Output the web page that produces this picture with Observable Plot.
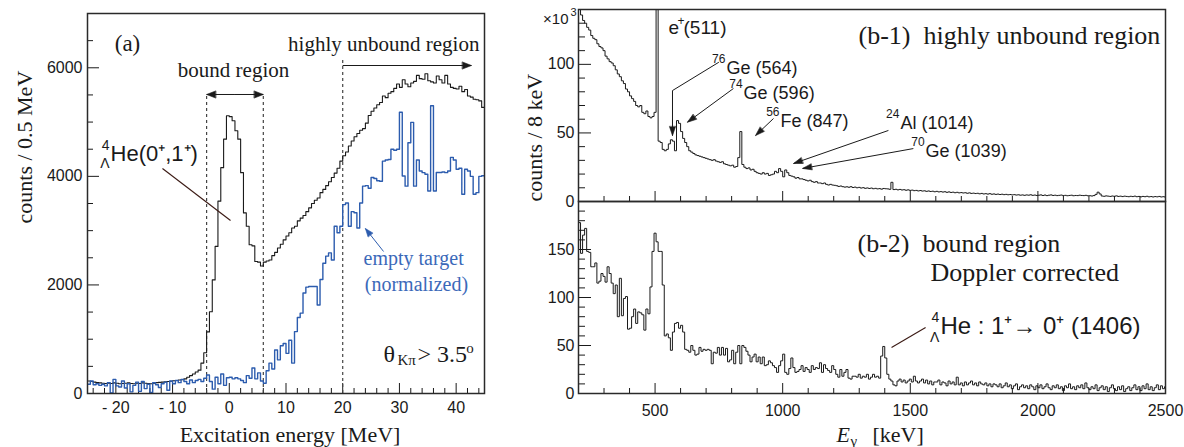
<!DOCTYPE html>
<html><head><meta charset="utf-8">
<script src="https://cdn.jsdelivr.net/npm/d3@7"></script>
<script src="https://cdn.jsdelivr.net/npm/@observablehq/plot@0.6"></script>
<style>
body{margin:0;background:#fff;}
#chart{position:relative;width:1184px;height:447px;overflow:hidden;background:#fff;}
</style></head><body><div id="chart"></div>
<script>
// ---------- DATA ----------
// Panel (a): excitation energy histograms, 0.5 MeV bins starting at -25 MeV
const aBinStart = -25, aBinWidth = 0.5;
const aSignal = [
 230,220,210,200,195,190,185,190,185,195,190,180,185,190,195,185,180,190,185,195,
 190,185,180,190,200,205,210,215,220,225,235,240,250,255,270,300,330,360,395,430,
 560,750,1135,1506,2093,2710,3543,4160,4685,5117,5100,5025,4840,4685,4068,3327,3080,2741,2720,2432,
 2420,2350,2420,2440,2460,2540,2600,2680,2750,2830,2900,2960,3050,3080,3180,3230,3280,3350,3420,3500,
 3560,3600,3700,3760,3830,3900,3980,4060,4150,4280,4380,4450,4560,4650,4730,4790,4850,4880,4980,5120,
 5200,5260,5320,5360,5480,5450,5530,5560,5620,5700,5640,5780,5700,5650,5720,5750,5860,5800,5790,5890,
 5760,5740,5720,5850,5780,5720,5860,5700,5640,5620,5610,5660,5560,5600,5480,5460,5420,5410,5390,5270
];
const aEmpty = [
 170,230,160,180,150,170,140,200,10,260,140,120,230,100,180,30,150,210,40,220,
 90,170,20,200,160,110,180,210,60,230,180,240,200,260,220,180,250,200,240,260,
 220,280,340,220,80,300,180,360,150,290,300,270,290,270,240,200,330,280,470,270,
 380,230,190,420,560,450,800,620,880,920,740,980,560,1140,1400,1480,1850,1960,1970,1970,
 1970,1630,2100,2400,2530,2590,2460,3080,2960,3080,3480,3510,3080,3350,3330,3050,3510,3820,3830,3780,
 3980,3960,3920,3910,4280,4300,4310,4500,4480,4500,5180,4006,3820,4620,4995,3820,4300,4100,4068,4040,
 3730,5300,3730,4070,4070,4080,4068,4100,4350,4300,4130,4150,3670,4130,4100,4000,3670,3700,4000,4010
];
// Panel (b): gamma-ray spectra, 8 keV bins starting at 200 keV
const bBinStart = 200, bBinWidth = 8;
const b1Counts = [ // highly unbound region, x10^3 counts
 141,136,132,130,127,125,121,119,118,115,113,112,110,106,104,102,101,99,96,93,91,88,86,82,80,
 77,75,73,70,69,70,65,64,66,62,61,62,65,300,44,43,38,37,38,42,45,44,37,59,57,
 51,46,43,40,37,36,35,34,33.5,33,32.5,32,31.5,31,30.5,30,30.5,29.5,29,28.5,29,27.5,27,26.5,26,
 26.5,25,25.5,32,51,27,25,24,24.5,23,23.5,22,21,20.5,20,21,20,20.5,19,19.5,20,22,21,24,22,
 18,23,21,19,18.5,18,17,17.5,16.5,16.5,16,15.5,15,15.5,14.5,14,14.5,13.5,13.5,13,13.5,12.5,12,12.5,12,
 11.8,11.5,11,11.3,10.8,10.5,10.7,10.4,10.8,10.2,10.5,10,10.3,9.8,10.1,9.6,9.9,9.5,9.8,9.3,9.6,9.2,9.4,9,9.5,
 9.3,9.2,8.9,14,8.7,8.9,8.5,8.8,8.4,8.6,8.2,8.5,8.1,8.3,7.9,8.1,7.7,8,7.6,7.8,7.4,7.7,7.3,7.5,7.1,
 7.4,7,7.2,6.9,7.1,6.7,7,6.6,6.8,6.4,6.7,6.3,6.5,6.2,6.4,6,6.3,5.9,6.1,5.8,6,5.6,5.9,5.5,5.7,
 5.4,5.7,5.3,5.5,5.2,5.4,5.1,5.3,5,5.2,4.9,5.1,4.8,5,4.7,4.9,4.6,4.8,4.5,4.8,4.6,4.9,4.5,4.7,4.4,
 4.6,4.8,4.4,4.7,4.3,4.6,4.8,4.4,4.6,4.3,4.5,4.7,4.3,4.5,4.2,4.4,4.6,4.2,4.4,4.3,4.6,4.4,4.3,4.5,4.2,
 4.2,4,4.3,5.2,6.8,5.5,4,3.8,4.1,3.9,3.7,4,3.8,4.1,3.7,3.9,3.6,3.9,3.7,3.5,3.8,3.6,3.9,3.5,3.7,
 3.4,3.7,3.5,3.8,3.4,3.6,3.3,3.6,3.4,3.7,3.3,3.5,3.2
];
const b2Counts = [ // bound region, Doppler corrected
 178,146,165,172,148,147,132,132,136,115,117,125,122,116,132,125,115,104,113,80,120,81,99,101,67,
 68,80,88,73,85,84,82,66,88,83,111,148,167,158,148,148,113,60,62,58,45,64,73,74,68,
 71,64,46,45,43,50,45,40,41,48,44,46,45,46,45,31,43,42,48,40,48,40,47,33,35,
 45,31,43,50,31,50,48,44,40,33,38,41,33,38,31,38,29,30,34,32,29,27,22,29,34,
 41,22,20,26,37,27,22,23,25,29,23,27,25,22,29,25,27,26,32,22,30,26,24,22,29,
 25,20,17,25,18,22,25,16,15,18,18,17,20,16,18,17,20,15,17,20,17,18,16,39,49,
 37,20,15,13,9,8,13,15,12,14,11,13,15,12,18,13,11,13,15,11,14,10,13,9,12,
 12,14,9,12,11,8,13,10,12,9,17,9,11,8,12,9,11,13,9,11,8,12,10,9,11,
 8,10,7,10,9,7,10,6,8,11,7,9,5,8,10,4,7,9,6,8,5,9,7,4,8,
 6,9,5,7,10,6,4,8,6,9,5,7,3,8,6,10,5,7,4,8,6,9,5,11,6,
 4,7,5,9,3,6,8,4,7,2,6,9,5,3,7,4,8,2,5,7,3,6,9,4,7,
 3,8,5,10,4,7,3,6,9,4,8,5,7
];
// tick labels
const aXTicks = [-20, -10, 0, 10, 20, 30, 40];
const aYTicks = [0, 2000, 4000, 6000];
const bXTicks = [500, 1000, 1500, 2000, 2500];
const b1YTicks = [0, 50, 100];
const b2YTicks = [0, 50, 100, 150];

// ---------- LAYOUT / STYLE ----------
const sans = "'Liberation Sans', Arial, Helvetica, sans-serif";
const serif = "'Liberation Serif', 'Times New Roman', Times, serif";
const ink = "#1a1a1a", frameCol = "#2a2a2a", blue = "#2c5cae", blueText = "#3b69b9", brown = "#3b1a14";
const W = 1184, H = 447;
const A  = {l: 87,  r: 484,  t: 13,  b: 393};
const B1 = {l: 578, r: 1165, t: 9,   b: 201};
const B2 = {l: 578, r: 1165, t: 201, b: 393};
const aXd = [-25, 45], aYd = [0, 7000], bXd = [200, 2500], b1Yd = [0, 140], b2Yd = [0, 200];

function mapper(box, xd, yd) {
  return {x: v => box.l + (v - xd[0]) / (xd[1] - xd[0]) * (box.r - box.l),
          y: v => box.b - (v - yd[0]) / (yd[1] - yd[0]) * (box.b - box.t)};
}
const mA = mapper(A, aXd, aYd), mB1 = mapper(B1, bXd, b1Yd), mB2 = mapper(B2, bXd, b2Yd);

function steps(values, start, width) {
  const pts = values.map((v, i) => ({x: start + i * width, y: v}));
  pts.push({x: start + values.length * width, y: values[values.length - 1]});
  return pts;
}
function base(box, xd, yd, marks) {
  return Plot.plot({
    width: W, height: H,
    marginLeft: box.l, marginRight: W - box.r, marginTop: box.t, marginBottom: H - box.b,
    x: {domain: xd, axis: null}, y: {domain: yd, axis: null},
    style: {position: "absolute", left: "0px", top: "0px", overflow: "visible", background: "transparent", fontFamily: sans, color: ink},
    marks
  });
}
const ticksX = (vals, len, box) => Plot.tickX(vals, {x: d => d, insetTop: (box.b - box.t) - len, stroke: ink, strokeWidth: 1});
const ticksY = (vals, len, box) => Plot.tickY(vals, {y: d => d, insetRight: (box.r - box.l) - len, stroke: ink, strokeWidth: 1});
const txt = (x, y, t, o = {}) => Plot.text([{x, y, t}], {x: "x", y: "y", text: "t", lineAnchor: "bottom", textAnchor: "start", fill: ink, ...o});
const headShape = {draw(ctx, l, r) { ctx.moveTo(-r, 0); ctx.lineTo(0, -l); ctx.lineTo(r, 0); ctx.closePath(); }};
function arrow(m, from, to, o = {}) {
  const col = o.color || ink, len = o.len || 9, r = o.r || 3.2;
  const ang = Math.atan2(m.x(to[0]) - m.x(from[0]), -(m.y(to[1]) - m.y(from[1]))) * 180 / Math.PI;
  return [
    Plot.link([{x1: from[0], y1: from[1], x2: to[0], y2: to[1]}], {x1: "x1", y1: "y1", x2: "x2", y2: "y2", stroke: col, strokeWidth: o.sw || 1}),
    Plot.vector([{x: to[0], y: to[1], a: ang}], {x: "x", y: "y", rotate: "a", length: len, r, anchor: "end", shape: headShape, fill: col, stroke: col, strokeWidth: 0.6})
  ];
}
const fmtA = d => d < 0 ? "- " + (-d) : String(d);

// ---------- PANEL (a) ----------
const plotA = base(A, aXd, aYd, [
  ticksX(d3.range(-24, 45, 2).filter(d => d % 10 !== 0), 5, A),
  ticksX(aXTicks, 10, A),
  ticksY(d3.range(500, 7000, 500).filter(d => d % 2000 !== 0), 6, A),
  ticksY(aYTicks, 12, A),
  Plot.axisX(aXTicks, {tickSize: 0, tickPadding: 8, tickFormat: fmtA, fontSize: 16, fontFamily: sans, fill: ink, label: null}),
  Plot.axisY(aYTicks, {tickSize: 0, tickPadding: 5, tickFormat: d => String(d), fontSize: 16, fontFamily: sans, fill: ink, label: null}),
  // dashed region borders
  Plot.ruleX([{x: -4, y2: 5508}, {x: 6, y2: 5508}, {x: 20, y2: 6170}], {x: "x", y1: 0, y2: "y2", stroke: "#444", strokeWidth: 1.2, strokeDasharray: "3,3"}),
  Plot.line(steps(aSignal, aBinStart, aBinWidth), {x: "x", y: "y", curve: "step-after", stroke: ink, strokeWidth: 1.1, clip: true}),
  Plot.line(steps(aEmpty, aBinStart, aBinWidth), {x: "x", y: "y", curve: "step-after", stroke: blue, strokeWidth: 1.4, clip: true}),
  Plot.frame({stroke: frameCol, strokeWidth: 1.5}),
  // annotations
  txt(-17.95, 6318, "(a)", {textAnchor: "middle", fontFamily: serif, fontSize: 23}),
  txt(0.75, 5830, "bound region", {textAnchor: "middle", fontFamily: serif, fontSize: 21}),
  ...arrow(mA, [1, 5508], [-4, 5508], {len: 9, r: 3.5}),
  ...arrow(mA, [1, 5508], [6, 5508], {len: 9, r: 3.5}),
  txt(44.1, 6318, "highly unbound region", {textAnchor: "end", fontFamily: serif, fontSize: 21}),
  ...arrow(mA, [20, 6042], [42.7, 6042], {len: 9, r: 3.5}),
  txt(-20.94, 4292, "He(0\u207A,1\u207A)", {fontSize: 22}),
  txt(-20.94, 4292, "4", {textAnchor: "end", dx: -1, dy: -11, fontSize: 14}),
  txt(-20.94, 4292, "\u039B", {textAnchor: "end", dx: -1, dy: 7, fontSize: 14}),
  Plot.link([{x1: -11.78, y1: 4145, x2: 0.216, y2: 3187}], {x1: "x1", y1: "y1", x2: "x2", y2: "y2", stroke: brown, strokeWidth: 1.1}),
  txt(32.5, 2358, "empty target", {textAnchor: "middle", fontFamily: serif, fontSize: 20, fill: blueText}),
  txt(33.0, 1897, "(normalized)", {textAnchor: "middle", fontFamily: serif, fontSize: 20, fill: blueText}),
  ...arrow(mA, [27.2, 2616], [24.0, 3039], {color: blue, len: 8, r: 3}),
  txt(27.2, 589, "\u03B8", {fontFamily: serif, fontSize: 24}),
  txt(29.66, 589, "K\u03C0", {fontFamily: serif, fontSize: 15, dy: 3}),
  txt(33.19, 589, "> 3.5", {fontFamily: serif, fontSize: 24}),
  txt(41.8, 755, "o", {fontFamily: serif, fontSize: 15}),
  Plot.text(["Excitation energy [MeV]"], {frameAnchor: "bottom", text: d => d, dx: 4, dy: 48, lineAnchor: "bottom", fontFamily: serif, fontSize: 22, fill: ink}),
  Plot.text(["counts / 0.5 MeV"], {frameAnchor: "left", text: d => d, dx: -63, dy: 20, rotate: -90, lineAnchor: "middle", fontFamily: serif, fontSize: 22, fill: ink})
]);

// ---------- PANEL (b-1) ----------
const bXMinor = d3.range(300, 2500, 100).filter(d => d % 500 !== 0);
const plotB1 = base(B1, bXd, b1Yd, [
  ticksX(bXMinor, 5, B1),
  ticksX(bXTicks, 10, B1),
  ticksY(d3.range(10, 140, 10).filter(d => d % 50 !== 0), 7, B1),
  ticksY(b1YTicks, 13, B1),
  Plot.axisY(b1YTicks, {tickSize: 0, tickPadding: 4, tickFormat: d => String(d), fontSize: 16, fontFamily: sans, fill: ink, label: null}),
  Plot.line(steps(b1Counts, bBinStart, bBinWidth), {x: "x", y: "y", curve: "step-after", stroke: ink, strokeWidth: 1, clip: true}),
  Plot.frame({stroke: frameCol, strokeWidth: 1.5}),
  Plot.text(["\u00D710"], {frameAnchor: "top-left", text: d => d, textAnchor: "end", lineAnchor: "bottom", dx: -10, dy: 14, fontSize: 15, fill: ink}),
  Plot.text(["3"], {frameAnchor: "top-left", text: d => d, textAnchor: "end", lineAnchor: "bottom", dx: -2, dy: 6, fontSize: 11, fill: ink}),
  txt(2479.9, 115, "(b-1)  highly unbound region", {textAnchor: "end", fontFamily: serif, fontSize: 26}),
  // e+ (511)
  txt(552.5, 121.8, "e", {fontSize: 19}),
  txt(588, 128.5, "+", {fontSize: 12}),
  txt(611.6, 121.8, "(511)", {fontSize: 19}),
  // 76Ge (564)
  txt(779.6, 93.1, "Ge (564)", {fontSize: 18}),
  txt(779.6, 93.1, "76", {textAnchor: "end", dx: -1, dy: -11, fontSize: 12}),
  Plot.line([{x: 748.6, y: 101.4}, {x: 568.3, y: 80.9}, {x: 568.3, y: 56}], {x: "x", y: "y", stroke: ink, strokeWidth: 1}),
  ...arrow(mB1, [568.3, 60], [568.3, 48], {len: 9, r: 3}),
  // 74Ge (596)
  txt(846.9, 74.9, "Ge (596)", {fontSize: 18}),
  txt(846.9, 74.9, "74", {textAnchor: "end", dx: -1, dy: -11, fontSize: 12}),
  ...arrow(mB1, [807.1, 82.4], [626.8, 57.8], {len: 9, r: 3}),
  // 56Fe (847)
  txt(991.5, 54.2, "Fe (847)", {fontSize: 18}),
  txt(991.5, 54.2, "56", {textAnchor: "end", dx: -1, dy: -11, fontSize: 12}),
  ...arrow(mB1, [964.0, 60.5], [893.7, 48.1], {len: 9, r: 3}),
  // 24Al (1014)
  txt(1461.2, 53, "Al (1014)", {fontSize: 18}),
  txt(1461.2, 53, "24", {textAnchor: "end", dx: -1, dy: -11, fontSize: 12}),
  ...arrow(mB1, [1414.3, 51.8], [1042.5, 27.7], {len: 9, r: 3}),
  // 70Ge (1039)
  txt(1560.0, 32.3, "Ge (1039)", {fontSize: 18}),
  txt(1560.0, 32.3, "70", {textAnchor: "end", dx: -1, dy: -11, fontSize: 12}),
  ...arrow(mB1, [1512.1, 38.6], [1078.1, 24.1], {len: 9, r: 3})
]);

// ---------- PANEL (b-2) ----------
const plotB2 = base(B2, bXd, b2Yd, [
  ticksX(bXMinor, 5, B2),
  ticksX(bXTicks, 10, B2),
  ticksY(d3.range(10, 200, 10).filter(d => d % 50 !== 0), 7, B2),
  ticksY(b2YTicks, 13, B2),
  Plot.axisX(bXTicks, {tickSize: 0, tickPadding: 11, tickFormat: d => String(d), fontSize: 16, fontFamily: sans, fill: ink, label: null}),
  Plot.axisY(b2YTicks, {tickSize: 0, tickPadding: 4, tickFormat: d => String(d), fontSize: 16, fontFamily: sans, fill: ink, label: null}),
  Plot.line(steps(b2Counts, bBinStart, bBinWidth), {x: "x", y: "y", curve: "step-after", stroke: ink, strokeWidth: 1, clip: true}),
  Plot.frame({stroke: frameCol, strokeWidth: 1.5}),
  txt(1293.1, 146.9, "(b-2)  bound region", {fontFamily: serif, fontSize: 26}),
  txt(1579.3, 116.7, "Doppler corrected", {fontFamily: serif, fontSize: 26}),
  txt(1618.0, 62.5, "He : 1\u207A\u2192 0\u207A (1406)", {fontSize: 24}),
  txt(1618.0, 62.5, "4", {textAnchor: "end", dx: -1, dy: -12, fontSize: 14}),
  txt(1618.0, 62.5, "\u039B", {textAnchor: "end", dx: -1, dy: 8, fontSize: 14}),
  Plot.link([{x1: 1560.0, y1: 68.75, x2: 1426.5, y2: 47.9}], {x1: "x1", y1: "y1", x2: "x2", y2: "y2", stroke: brown, strokeWidth: 1.1}),
  Plot.text(["E"], {frameAnchor: "bottom", text: d => d, textAnchor: "start", lineAnchor: "bottom", dx: -35.5, dy: 48, fontFamily: serif, fontStyle: "italic", fontSize: 22, fill: ink}),
  Plot.text(["\u03B3"], {frameAnchor: "bottom", text: d => d, textAnchor: "start", lineAnchor: "bottom", dx: -21.5, dy: 52, fontFamily: serif, fontSize: 15, fill: ink}),
  Plot.text(["[keV]"], {frameAnchor: "bottom", text: d => d, textAnchor: "start", lineAnchor: "bottom", dx: 0.5, dy: 48, fontFamily: serif, fontSize: 22, fill: ink}),
  Plot.text(["counts / 8 keV"], {frameAnchor: "top-left", text: d => d, dx: -44, dy: 0, rotate: -90, lineAnchor: "middle", fontFamily: serif, fontSize: 22, fill: ink})
]);

document.getElementById("chart").append(plotA, plotB1, plotB2);
</script></body></html>
